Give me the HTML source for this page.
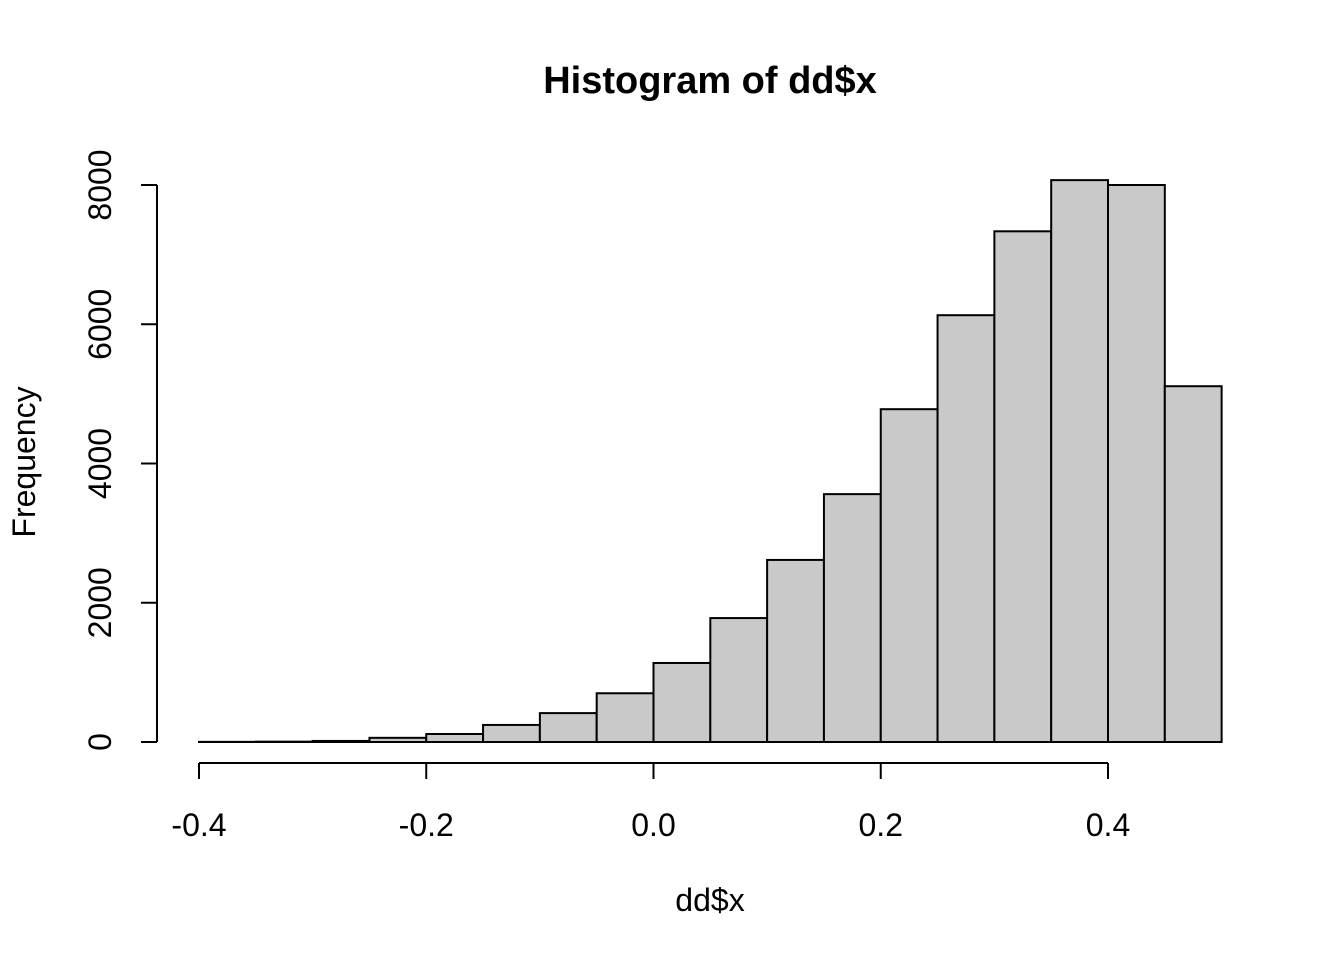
<!DOCTYPE html>
<html><head><meta charset="utf-8"><style>
body{margin:0;background:#fff}
svg text{font-family:"Liberation Sans",Arial,sans-serif;fill:#000}
</style></head><body>
<svg id="chart" width="1344" height="960" xmlns="http://www.w3.org/2000/svg">
<text x="710" y="93" font-size="38" font-weight="bold" text-anchor="middle">Histogram of dd$x</text>
<text x="710" y="911" font-size="32" text-anchor="middle">dd$x</text>
<text transform="translate(35,462) rotate(-90)" font-size="32" text-anchor="middle">Frequency</text>
<g id="bars"></g><g id="axes"></g>
</svg>
<script>
const binStarts=[-0.4,-0.35,-0.3,-0.25,-0.2,-0.15,-0.1,-0.05,0,0.05,0.1,0.15,0.2,0.25,0.3,0.35,0.4,0.45];
const counts=[2,5,15,60,115,245,415,700,1135,1780,2615,3560,4780,6130,7335,8070,8000,5110];
const binWidth=0.05;
const xTicks=[-0.4,-0.2,0.0,0.2,0.4];
const xTickLabels=["-0.4","-0.2","0.0","0.2","0.4"];
const yTicks=[0,2000,4000,6000,8000];
const yTickLabels=["0","2000","4000","6000","8000"];
const NS="http://www.w3.org/2000/svg";
const xs=v=>199+(v+0.4)*(909/0.8);
const ys=v=>742-v*(557/8000);
const bars=document.getElementById('bars'),axes=document.getElementById('axes');
function mk(tag,attrs,parent){const e=document.createElementNS(NS,tag);for(const k in attrs)e.setAttribute(k,attrs[k]);parent.appendChild(e);return e;}
binStarts.forEach((b,i)=>{
 const x0=xs(b),x1=xs(b+binWidth),y=ys(counts[i]);
 const r=mk('rect',{x:x0,y:y,width:x1-x0,height:742-y,fill:'#c9c9c9',stroke:'#000','stroke-width':2},bars);
 
 
});
const xl=mk('line',{x1:xs(xTicks[0]),x2:xs(xTicks[xTicks.length-1]),y1:763,y2:763,stroke:'#000','stroke-width':2},axes);


xTicks.forEach((t,i)=>{
 const l=mk('line',{x1:xs(t),x2:xs(t),y1:763,y2:779,stroke:'#000','stroke-width':2},axes);
 
 
 const tx=mk('text',{x:xs(t),y:836,'font-size':32,'text-anchor':'middle'},axes);tx.textContent=xTickLabels[i];
 
 
});
const yl=mk('line',{x1:157,x2:157,y1:ys(yTicks[0]),y2:ys(yTicks[yTicks.length-1]),stroke:'#000','stroke-width':2},axes);


yTicks.forEach((t,i)=>{
 const l=mk('line',{x1:141,x2:157,y1:ys(t),y2:ys(t),stroke:'#000','stroke-width':2},axes);
 
 
 const tx=mk('text',{transform:`translate(111,${ys(t)}) rotate(-90)`,'font-size':32,'text-anchor':'middle'},axes);tx.textContent=yTickLabels[i];
 
 
});
</script>
</body></html>
